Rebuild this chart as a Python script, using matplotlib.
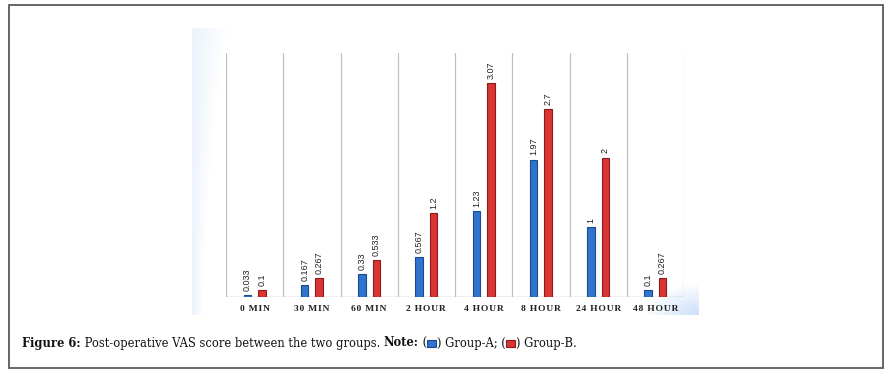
import numpy as np
import matplotlib.pyplot as plt
from matplotlib.patches import Rectangle

categories = ["0 MIN", "30 MIN", "60 MIN", "2 HOUR", "4 HOUR", "8 HOUR", "24 HOUR", "48 HOUR"]
group_a = [0.033, 0.167, 0.33, 0.567, 1.23, 1.97, 1.0, 0.1]
group_b = [0.1, 0.267, 0.533, 1.2, 3.07, 2.7, 2.0, 0.267]
labels_a = ["0.033", "0.167", "0.33", "0.567", "1.23", "1.97", "1", "0.1"]
labels_b = ["0.1", "0.267", "0.533", "1.2", "3.07", "2.7", "2", "0.267"]

W, H = 892, 376
fig = plt.figure(figsize=(W / 100, H / 100), dpi=100)
fig.patch.set_facecolor("white")

# outer frame of the figure box
fig.patches.append(Rectangle((9 / W, 1 - 368 / H), 874 / W, 363 / H, transform=fig.transFigure,
                             fill=False, edgecolor="#5a5a5a", linewidth=1.3))

# chart background with light blue corner shading
bg = fig.add_axes([192 / W, 1 - 315 / H, 507 / W, 287 / H])
nx, ny = 507, 287
xx, yy = np.meshgrid(np.linspace(0, 1, nx), np.linspace(0, 1, ny))
# left strip, wider near the top
strip_w = 12 + 25 * yy ** 2
a_tl = np.clip(1 - xx * nx / strip_w, 0, 1) * 0.16
# bottom-right corner
d_br = np.hypot((1 - xx) * nx / 55.0, yy * ny / 32.0)
a_br = np.clip(1 - d_br, 0, 1) * 0.45
alpha = np.clip(a_tl + a_br, 0, 1)
img = np.zeros((ny, nx, 4))
img[..., 0] = 0.55
img[..., 1] = 0.72
img[..., 2] = 0.95
img[..., 3] = alpha
bg.imshow(img, origin="lower", aspect="auto", extent=[0, 1, 0, 1])
bg.set_axis_off()

ax = fig.add_axes([226 / W, 1 - 297 / H, 458 / W, 244 / H])
ax.patch.set_alpha(0)
x = np.arange(len(categories))
off = 0.125
bw = 0.13
ax.bar(x - off, group_a, bw, color="#2f74cf", edgecolor="#1c4a8c", linewidth=0.8, zorder=3)
ax.bar(x + off, group_b, bw, color="#d93535", edgecolor="#8c1a1a", linewidth=0.8, zorder=3)

for i in range(len(categories)):
    ax.annotate(labels_a[i], (x[i] - off, group_a[i]), xytext=(0, 3), textcoords="offset points",
                rotation=90, ha="center", va="bottom", fontsize=6.5, family="Liberation Sans", color="#222222")
    ax.annotate(labels_b[i], (x[i] + off, group_b[i]), xytext=(0, 3), textcoords="offset points",
                rotation=90, ha="center", va="bottom", fontsize=6.5, family="Liberation Sans", color="#222222")

for b in np.arange(-0.5, len(categories), 1.0):
    ax.axvline(b, color="#c0c0c0", linewidth=0.9, zorder=1)
ax.axhline(0, color="#b0b0b0", linewidth=1.0, zorder=2)

ax.set_xlim(-0.5, len(categories) - 0.5)
ax.set_ylim(0, 3.5)
ax.set_yticks([])
ax.set_xticks(x)
spaced = ["\u200a".join(c) for c in categories]
ax.set_xticklabels(spaced, family=["Liberation Serif", "DejaVu Serif"], fontsize=6.8,
                   fontweight="bold", color="#222222")
ax.tick_params(axis="x", length=0, pad=6)
for s in ax.spines.values():
    s.set_visible(False)

# caption, built piece by piece
fig.canvas.draw()
r = fig.canvas.get_renderer()
cx, cy = 22, H - 343
pieces = [("Figure 6:", "bold"), (" Post-operative VAS score between the two groups. ", "normal"),
          ("Note:", "bold"), (" (", "normal"), ("#2f74cf", None), (") Group-A; (", "normal"),
          ("#d93535", None), (") Group-B.", "normal")]
for txt, wt in pieces:
    if wt is None:
        sw, sh = 9, 7
        edge = "#1c4a8c" if txt == "#2f74cf" else "#8c1a1a"
        fig.patches.append(Rectangle(((cx + 0.5) / W, (cy - sh / 2) / H), sw / W, sh / H,
                                     transform=fig.transFigure, facecolor=txt, edgecolor=edge, linewidth=0.8))
        cx += sw + 1
        continue
    t = fig.text(cx / W, cy / H, txt, fontsize=8.3, fontweight=wt, family="DejaVu Serif",
                 va="center", ha="left", color="#111111")
    bb = t.get_window_extent(r)
    cx += bb.width

fig.savefig("out.png", dpi=100)
